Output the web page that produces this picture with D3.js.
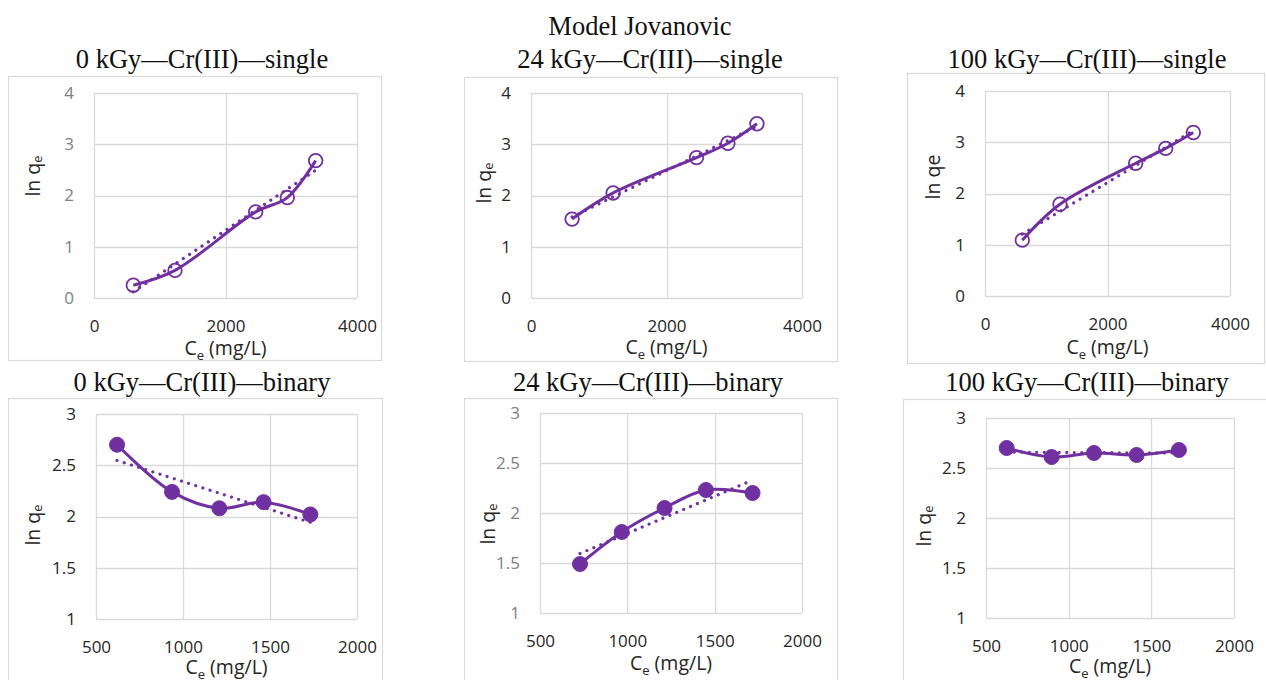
<!DOCTYPE html>
<html>
<head>
<meta charset="utf-8">
<script src="https://cdn.jsdelivr.net/npm/d3@7"></script>
<style>
  body { margin: 0; background: #fff; }
  svg { display: block; }
  .tick-label { font-family: "Open Sans", "Noto Sans", sans-serif; font-size: 17px; fill: #262626; }
  .axis-title { font-family: "Open Sans", "Noto Sans", sans-serif; font-size: 19.5px; fill: #262626; }
  .panel-title, .main-title { font-family: "Liberation Serif", "DejaVu Serif", serif; font-size: 26.5px; fill: #111; }
</style>
</head>
<body>
<svg id="chart" width="1266" height="680"></svg>
<script>
// ---- data: equilibrium concentration Ce (mg/L) and ln qe ----
const ce0Single    = [598, 1232, 2459, 2940, 3371];
const lnq0Single   = [0.25, 0.54, 1.68, 1.96, 2.68];
const ce24Single   = [606, 1212, 2443, 2906, 3335];
const lnq24Single  = [1.54, 2.05, 2.74, 3.02, 3.40];
const ce100Single  = [609, 1224, 2460, 2950, 3401];
const lnq100Single = [1.09, 1.79, 2.59, 2.88, 3.19];

const ce0Binary    = [621, 937, 1209, 1463, 1732];
const lnq0Binary   = [2.70, 2.24, 2.08, 2.14, 2.02];
const ce24Binary   = [729, 968, 1213, 1450, 1717];
const lnq24Binary  = [1.49, 1.81, 2.05, 2.23, 2.20];
const ce100Binary  = [625, 897, 1153, 1411, 1667];
const lnq100Binary = [2.70, 2.61, 2.65, 2.63, 2.68];

// ---- tick labels ----
const singleXTicks = [0, 2000, 4000];
const singleYTicks = [0, 1, 2, 3, 4];
const binaryXTicks = [500, 1000, 1500, 2000];
const binaryYTicks = [1, 1.5, 2, 2.5, 3];

const mainTitle = "Model Jovanovic";
const panelTitles = [
  "0 kGy\u2014Cr(III)\u2014single", "24 kGy\u2014Cr(III)\u2014single", "100 kGy\u2014Cr(III)\u2014single",
  "0 kGy\u2014Cr(III)\u2014binary", "24 kGy\u2014Cr(III)\u2014binary", "100 kGy\u2014Cr(III)\u2014binary"
];

const purple = "#7030A0";
const gridColor = "#d9d9d9";

// Panel frames: outer box, plot area, title and y-title anchors
const panels = [
  { ce: ce0Single,   lnq: lnq0Single,   xt: singleXTicks, yt: singleYTicks, open: true,  ySub: true,  yTickColor: "#7f7f7f", xTitleOff: 57,
    box: [8, 76, 381, 360],   plot: [94, 93, 357, 298],   title: [202, 68],   yTitle: [32, 176] },
  { ce: ce24Single,  lnq: lnq24Single,  xt: singleXTicks, yt: singleYTicks, open: true,  ySub: true,  yTickColor: "#262626", xTitleOff: 56,
    box: [464, 77, 837, 361], plot: [531, 93, 802, 298],  title: [650, 68],   yTitle: [483, 183] },
  { ce: ce100Single, lnq: lnq100Single, xt: singleXTicks, yt: singleYTicks, open: true,  ySub: false, yTickColor: "#262626", xTitleOff: 58,
    box: [907, 73, 1264, 363], plot: [985, 91, 1230, 296], title: [1087, 68], yTitle: [932, 177] },
  { ce: ce0Binary,   lnq: lnq0Binary,   xt: binaryXTicks, yt: binaryYTicks, open: false, ySub: true,  yTickColor: "#262626", xTitleOff: 55,
    box: [8, 398, 382, 700],  plot: [96, 414, 357, 619],  title: [202, 391],  yTitle: [32, 525] },
  { ce: ce24Binary,  lnq: lnq24Binary,  xt: binaryXTicks, yt: binaryYTicks, open: false, ySub: true,  yTickColor: "#7f7f7f", xTitleOff: 57,
    box: [464, 398, 837, 700], plot: [540, 413, 802, 613], title: [648, 391], yTitle: [487, 524] },
  { ce: ce100Binary, lnq: lnq100Binary, xt: binaryXTicks, yt: binaryYTicks, open: false, ySub: true,  yTickColor: "#262626", xTitleOff: 55,
    box: [903, 399, 1270, 700], plot: [986, 418, 1234, 618], title: [1087, 391], yTitle: [923, 526] }
];

const svg = d3.select("#chart");

svg.append("text").attr("class", "main-title")
  .attr("x", 640).attr("y", 35).attr("text-anchor", "middle").text(mainTitle);

// least-squares linear trendline
function linearFit(xs, ys) {
  const mx = d3.mean(xs), my = d3.mean(ys);
  const sxy = d3.sum(xs, (x, i) => (x - mx) * (ys[i] - my));
  const sxx = d3.sum(xs, x => (x - mx) * (x - mx));
  const b = sxy / sxx, a = my - b * mx;
  return x => a + b * x;
}

panels.forEach((p, idx) => {
  const g = svg.append("g");
  const [bx0, by0, bx1, by1] = p.box;
  const [px0, py0, px1, py1] = p.plot;

  g.append("rect").attr("x", bx0 + 0.5).attr("y", by0 + 0.5)
    .attr("width", bx1 - bx0).attr("height", by1 - by0)
    .attr("fill", "#fff").attr("stroke", gridColor).attr("stroke-width", 1.2);

  g.append("text").attr("class", "panel-title")
    .attr("x", p.title[0]).attr("y", p.title[1]).attr("text-anchor", "middle")
    .text(panelTitles[idx]);

  const x = d3.scaleLinear().domain(d3.extent(p.xt)).range([px0, px1]);
  const y = d3.scaleLinear().domain(d3.extent(p.yt)).range([py1, py0]);

  // gridlines
  g.append("g").selectAll("line").data(p.yt).join("line")
    .attr("x1", px0).attr("x2", px1)
    .attr("y1", d => Math.round(y(d)) + 0.5).attr("y2", d => Math.round(y(d)) + 0.5)
    .attr("stroke", gridColor).attr("stroke-width", 1.3);
  g.append("g").selectAll("line").data(p.xt).join("line")
    .attr("y1", py0).attr("y2", py1)
    .attr("x1", d => Math.round(x(d)) + 0.5).attr("x2", d => Math.round(x(d)) + 0.5)
    .attr("stroke", gridColor).attr("stroke-width", 1.3);

  // axes (labels only, drawn with d3 axis generators)
  const xAxis = g.append("g").attr("transform", `translate(0,${py1})`)
    .call(d3.axisBottom(x).tickValues(p.xt).tickSize(0).tickPadding(22).tickFormat(d3.format("d")));
  xAxis.select(".domain").remove();
  xAxis.selectAll("text").attr("class", "tick-label").attr("fill", null);

  const yAxis = g.append("g").attr("transform", `translate(${px0},0)`)
    .call(d3.axisLeft(y).tickValues(p.yt).tickSize(0).tickPadding(20).tickFormat(d3.format("~g")));
  yAxis.select(".domain").remove();
  yAxis.selectAll("text").attr("class", "tick-label").attr("fill", null).style("fill", p.yTickColor);

  // axis titles
  const xt = g.append("text").attr("class", "axis-title")
    .attr("x", (px0 + px1) / 2).attr("y", py1 + p.xTitleOff).attr("text-anchor", "middle");
  xt.append("tspan").text("C");
  xt.append("tspan").attr("font-size", "13px").attr("dy", 5).text("e");
  xt.append("tspan").attr("dy", -5).text(" (mg/L)");

  const yt = g.append("text").attr("class", "axis-title")
    .attr("transform", `translate(${p.yTitle[0]},${p.yTitle[1]}) rotate(-90)`)
    .attr("text-anchor", "middle").attr("dominant-baseline", "central");
  if (p.ySub) {
    yt.append("tspan").text("ln q");
    yt.append("tspan").attr("font-size", "13px").attr("dy", 5).text("e");
  } else {
    yt.append("tspan").text("ln qe");
  }

  const pts = p.ce.map((c, i) => [c, p.lnq[i]]);

  // dotted linear trendline
  const fit = linearFit(p.ce, p.lnq);
  const ext = d3.extent(p.ce);
  g.append("line")
    .attr("x1", x(ext[0])).attr("y1", y(fit(ext[0])))
    .attr("x2", x(ext[1])).attr("y2", y(fit(ext[1])))
    .attr("stroke", purple).attr("stroke-width", 3.2)
    .attr("stroke-linecap", "round").attr("stroke-dasharray", "0.01 7.5");

  // smoothed data line
  g.append("path").datum(pts)
    .attr("d", d3.line().x(d => x(d[0])).y(d => y(d[1])).curve(d3.curveCatmullRom.alpha(0.5)))
    .attr("fill", "none").attr("stroke", purple).attr("stroke-width", 3);

  // markers
  g.append("g").selectAll("circle").data(pts).join("circle")
    .attr("cx", d => x(d[0])).attr("cy", d => y(d[1]))
    .attr("r", p.open ? 6.8 : 7.5)
    .attr("fill", p.open ? "none" : purple)
    .attr("stroke", purple).attr("stroke-width", p.open ? 1.8 : 1);
});
</script>
</body>
</html>
